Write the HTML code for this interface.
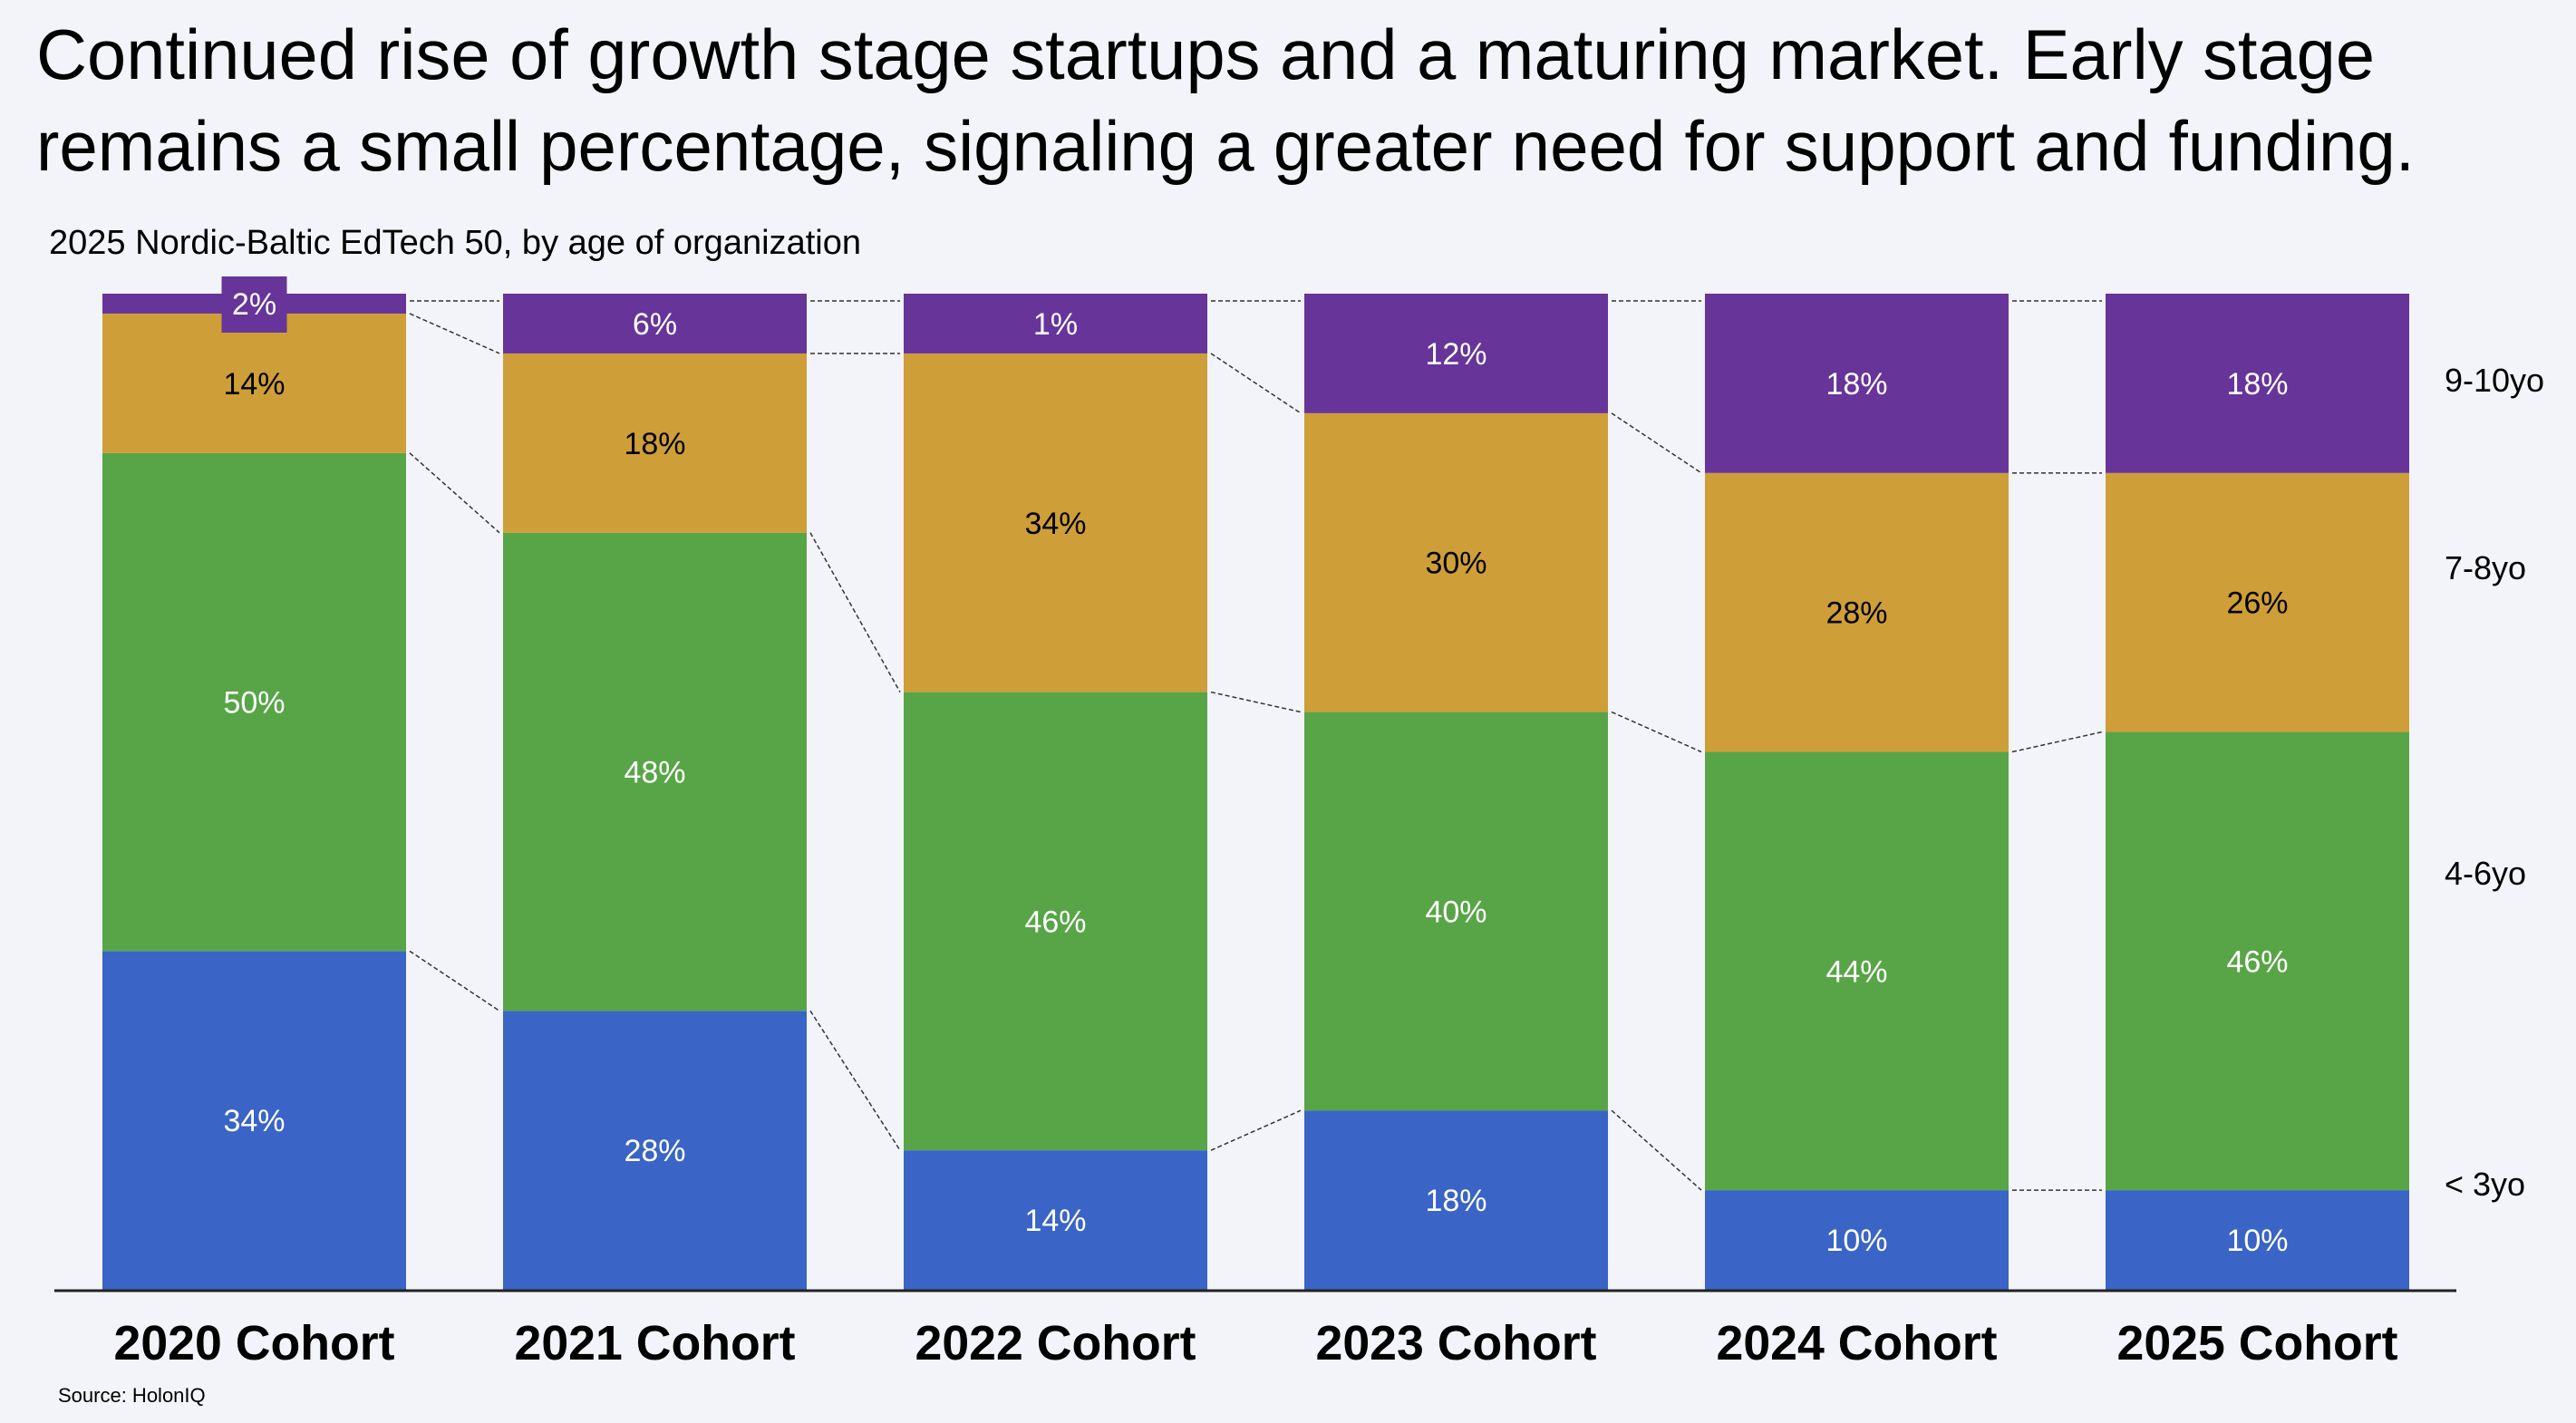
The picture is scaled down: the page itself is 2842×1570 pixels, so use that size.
<!DOCTYPE html>
<html><head><meta charset="utf-8"><style>
html,body{margin:0;padding:0;background:#F3F4F9;}
svg{display:block;}
text{font-family:"Liberation Sans",sans-serif;}
</style></head><body>
<svg id="chart" width="2842" height="1570" viewBox="0 0 2842 1570">
<rect width="2842" height="1570" fill="#F3F4F9"/>
<text x="40" y="87" font-size="78" textLength="2580" lengthAdjust="spacingAndGlyphs">Continued rise of growth stage startups and a maturing market. Early stage</text>
<text x="40" y="188" font-size="78" textLength="2624" lengthAdjust="spacingAndGlyphs">remains a small percentage, signaling a greater need for support and funding.</text>
<text x="54" y="280" font-size="38" textLength="896" lengthAdjust="spacingAndGlyphs">2025 Nordic-Baltic EdTech 50, by age of organization</text>
<g id="connectors"></g>
<g id="bars"></g>
<line x1="60" y1="1424" x2="2710" y2="1424" stroke="#222" stroke-width="3"/>
<g id="xlabels"></g>
<g id="legend"></g>
<text x="64" y="1547" font-size="22">Source: HolonIQ</text>
</svg>
<script>
const categories = ["2020 Cohort","2021 Cohort","2022 Cohort","2023 Cohort","2024 Cohort","2025 Cohort"];
const seriesNames = ["< 3yo","4-6yo","7-8yo","9-10yo"];
const under3 = [34,28,14,18,10,10];
const yo4to6 = [50,48,46,40,44,46];
const yo7to8 = [14,18,34,30,28,26];
const yo9to10 = [2,6,6,12,18,18];
const yo9to10Labels = ["2%","6%","1%","12%","18%","18%"];
const colors = ["#3A64C5","#58A547","#CE9E38","#673499"];
const textColors = ["#fff","#fff","#000","#fff"];
const legendPos = [1319,976,639,432];

const NS = "http://www.w3.org/2000/svg";
const series = [under3, yo4to6, yo7to8, yo9to10];
const plotTop = 324, plotBottom = 1423, barW = 335;
const x0 = 113, pitch = 442;
function xScale(i){ return x0 + pitch*i; }
function total(i){ let s=0; series.forEach(a=>s+=a[i]); return s; }
function yScale(v,i){ return plotBottom - (v/total(i))*(plotBottom-plotTop); }
function mk(tag, attrs){ const e=document.createElementNS(NS,tag); for(const k in attrs) e.setAttribute(k,attrs[k]); return e; }
const gb = document.getElementById("bars"), gc = document.getElementById("connectors"),
      gx = document.getElementById("xlabels"), gl = document.getElementById("legend");
const bounds = [];
categories.forEach((c,i)=>{
  let cum = 0; const b=[];
  series.forEach((arr,s)=>{
    const y1 = yScale(cum,i), y2 = yScale(cum+arr[i],i);
    b.push(y2);
    const r = mk("rect",{x:xScale(i),y:y2,width:barW,height:y1-y2,fill:colors[s]});
    
    
    gb.appendChild(r);
    cum += arr[i];
  });
  bounds.push(b);
});
categories.forEach((c,i)=>{
  let cum = 0;
  series.forEach((arr,s)=>{
    const y1 = yScale(cum,i), y2 = yScale(cum+arr[i],i);
    const cx = xScale(i)+barW/2, cy=(y1+y2)/2;
    const label = s===3 ? yo9to10Labels[i] : arr[i]+"%";
    if (s===3 && (y1-y2) < 40) {
      const bx = mk("rect",{x:cx-36,y:cy-30,width:72,height:62,fill:colors[3]});
      
      
      gb.appendChild(bx);
    }
    const t = mk("text",{x:cx,y:cy+12,"font-size":34,"text-anchor":"middle",fill:textColors[s]});
    
    
    t.textContent = label;
    gb.appendChild(t);
    cum += arr[i];
  });
  const xl = mk("text",{x:xScale(i)+barW/2,y:1500,"font-size":54,"font-weight":"bold","text-anchor":"middle",textLength:310,lengthAdjust:"spacingAndGlyphs",fill:"#000"});
  
  
  xl.textContent = c;
  gx.appendChild(xl);
  if (i < categories.length-1) {
    for (let s=0;s<3;s++){
      const ln = mk("line",{x1:xScale(i)+barW+4,y1:bounds[i][s],x2:xScale(i+1)-4,y2:bounds[i+1][s],stroke:"#333","stroke-width":1.5,"stroke-dasharray":"5,3"});
      
      
      gc.appendChild(ln);
    }
    const ln = mk("line",{x1:xScale(i)+barW+4,y1:plotTop+8,x2:xScale(i+1)-4,y2:plotTop+8,stroke:"#333","stroke-width":1.5,"stroke-dasharray":"5,3"});
    
    
    gc.appendChild(ln);
  }
});
seriesNames.forEach((n,s)=>{
  const t = mk("text",{x:2697,y:legendPos[s],"font-size":36,fill:"#000"});
  
  
  t.textContent = n;
  gl.appendChild(t);
});
</script>
</body></html>
